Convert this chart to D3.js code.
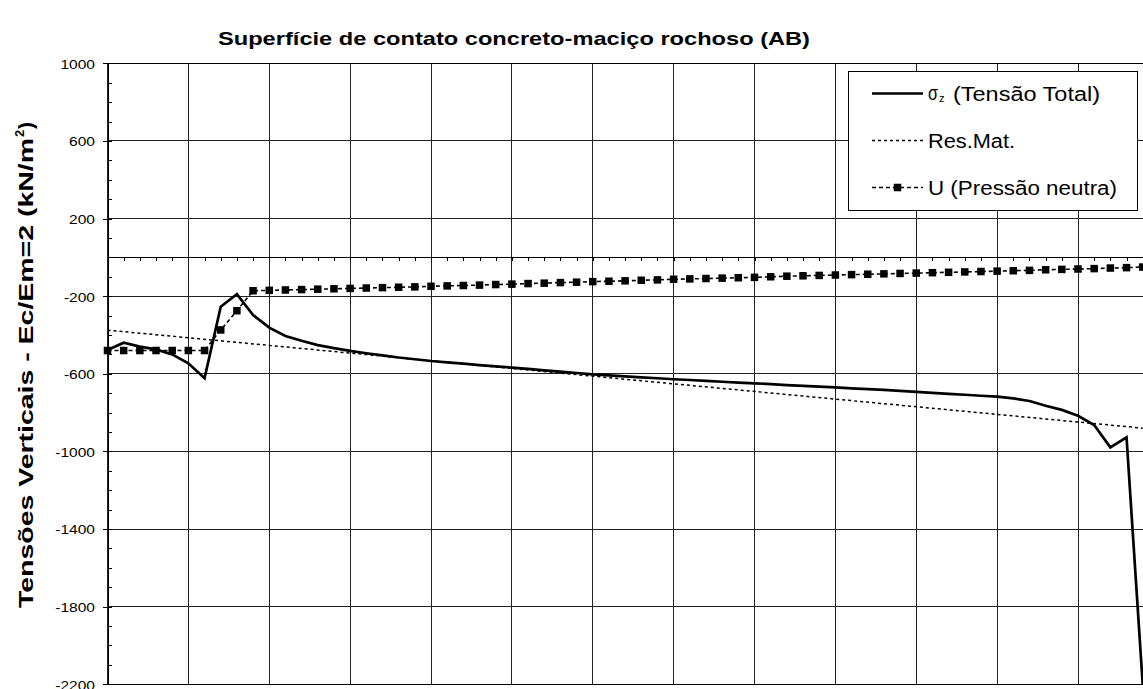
<!DOCTYPE html>
<html>
<head>
<meta charset="utf-8">
<script src="https://cdn.jsdelivr.net/npm/d3@7"></script>
<style>
  html, body { margin: 0; padding: 0; background: #fff; }
  svg { display: block; font-family: "Liberation Sans", Arial, sans-serif; }
</style>
</head>
<body>
<svg id="chart" width="1143" height="689"></svg>
<script>
// ---- data ----
const titleText = "Superfície de contato concreto-maciço rochoso (AB)";
const yTitleMain = "Tensões Verticais - Ec/Em=2  (kN/m";
const yTitleSup = "2";
const yTitleEnd = ")";
const yTickValues = [1000, 600, 200, -200, -600, -1000, -1400, -1800, -2200];
const yTickLabels = ["1000", "600", "200", "-200", "-600", "-1000", "-1400", "-1800", "-2200"];
const xGridValues = [0, 5, 10, 15, 20, 25, 30, 35, 40, 45, 50, 55, 60];

// sigma_z (Tensão Total), one value per node 0..64
const sigmaX = [0,1,2,3,4,5,6,7,8,9,10,11,12,13,14,15,16,17,18,19,20,21,22,23,24,25,26,27,28,29,30,31,32,33,34,35,36,37,38,39,40,41,42,43,44,45,46,47,48,49,50,51,52,53,54,55,56,57,58,59,60,61,62,63,64];
const sigmaZ = [-477,-440,-460,-474,-500,-546,-623,-254,-190,-297,-362,-405,-430,-452,-468,-482,-494,-505,-516,-525,-534,-541,-548,-555,-562,-568,-575,-582,-589,-596,-603,-608,-613,-618,-623,-628,-632,-636,-641,-645,-649,-653,-658,-662,-666,-670,-675,-679,-683,-688,-693,-698,-703,-708,-713,-718,-727,-740,-765,-786,-816,-864,-979,-927,-2200];

// Res.Mat.
const resMatX = [0, 16, 32, 48, 64];
const resMat = [-375, -501, -628, -754, -880];

// U (Pressão neutra)
const uX = sigmaX;
const uVals = [-480,-480,-480,-480,-480,-480,-480,-374,-275,-172,-170,-168,-166,-164,-162,-160,-158,-156,-154,-152,-149,-147,-145,-143,-140,-138,-135,-133,-130,-128,-125,-123,-121,-118,-116,-113,-111,-109,-107,-105,-103,-100,-97,-95,-93,-91,-89,-87,-85,-83,-81,-79,-77,-75,-73,-71,-69,-67,-64,-62,-60,-58,-55,-53,-50];

const legendLabels = ["σ", "z", "(Tensão Total)", "Res.Mat.", "U (Pressão neutra)"];

// ---- chart ----
const svg = d3.select("#chart");
const x = d3.scaleLinear().domain([0, 64]).range([107.5, 1142.7]);
const y = d3.scaleLinear().domain([-2200, 1000]).range([684.3, 63.3]);

svg.append("rect").attr("width", 1143).attr("height", 689).attr("fill", "#fff");

// gridlines
const grid = svg.append("g").attr("stroke", "#222").attr("stroke-width", 1).attr("shape-rendering", "crispEdges");
grid.selectAll("line.h").data(yTickValues).join("line")
  .attr("x1", x(0)).attr("x2", 1143).attr("y1", d => y(d)).attr("y2", d => y(d));
grid.selectAll("line.v").data(xGridValues).join("line")
  .attr("x1", d => x(d)).attr("x2", d => x(d)).attr("y1", y(1000)).attr("y2", y(-2200));

// y axis (major outside with labels)
const yAxis = svg.append("g").attr("transform", `translate(${x(0)},0)`)
  .call(d3.axisLeft(y).tickValues(yTickValues).tickFormat((d, i) => yTickLabels[i]).tickSize(5).tickSizeOuter(0));
yAxis.select(".domain").attr("stroke", "#000").attr("shape-rendering", "crispEdges");
yAxis.selectAll(".tick line").attr("stroke", "#000").attr("shape-rendering", "crispEdges");
yAxis.selectAll(".tick text")
  .attr("font-family", "'Liberation Sans', Arial, sans-serif")
  .attr("font-size", 13.5).attr("fill", "#000")
  .attr("x", -10.9).attr("dy", "0.36em")
  .attr("transform", "scale(1.15,1)");

// minor ticks y (inside)
const yMinor = svg.append("g").attr("transform", `translate(${x(0)},0)`)
  .call(d3.axisRight(y).tickValues(d3.range(-2200, 1001, 100)).tickSize(4).tickFormat("").tickSizeOuter(0));
yMinor.select(".domain").remove();
yMinor.selectAll(".tick line").attr("stroke", "#000").attr("shape-rendering", "crispEdges");

// x axis at y=0 with minor ticks
const xAxis = svg.append("g").attr("transform", `translate(0,${y(0)})`)
  .call(d3.axisBottom(x).tickValues(d3.range(0, 65, 1)).tickSize(4).tickFormat("").tickSizeOuter(0));
xAxis.select(".domain").attr("stroke", "#000").attr("shape-rendering", "crispEdges");
xAxis.selectAll(".tick line").attr("stroke", "#000").attr("shape-rendering", "crispEdges");

// border top/bottom
svg.append("line").attr("x1", x(0)).attr("x2", 1143).attr("y1", y(1000)).attr("y2", y(1000)).attr("stroke", "#000").attr("shape-rendering", "crispEdges");
svg.append("line").attr("x1", x(0)).attr("x2", 1143).attr("y1", y(-2200)).attr("y2", y(-2200)).attr("stroke", "#000").attr("stroke-width", 1.5).attr("shape-rendering", "crispEdges");

const line = d3.line().x(d => x(d[0])).y(d => y(d[1]));

// Res.Mat.
svg.append("path").datum(resMatX.map((d, i) => [d, resMat[i]]))
  .attr("d", line).attr("fill", "none").attr("stroke", "#000").attr("stroke-width", 1.5)
  .attr("stroke-dasharray", "3,3");

// U series
svg.append("path").datum(uX.map((d, i) => [d, uVals[i]]))
  .attr("d", line).attr("fill", "none").attr("stroke", "#000").attr("stroke-width", 1.6)
  .attr("stroke-dasharray", "4,3");
svg.append("g").selectAll("rect").data(uX.map((d, i) => [d, uVals[i]])).join("rect")
  .attr("x", d => x(d[0]) - 3.75).attr("y", d => y(d[1]) - 3.75)
  .attr("width", 7.5).attr("height", 7.5).attr("fill", "#000");

// sigma_z
svg.append("path").datum(sigmaX.map((d, i) => [d, sigmaZ[i]]))
  .attr("d", line).attr("fill", "none").attr("stroke", "#000").attr("stroke-width", 2.7)
  .attr("stroke-linejoin", "miter");

// title
svg.append("text").attr("x", 218).attr("y", 45)
  .attr("font-size", 19).attr("font-weight", "bold").attr("fill", "#000")
  .attr("textLength", 592).attr("lengthAdjust", "spacingAndGlyphs")
  .text(titleText);

// y title (rotated, reading bottom to top)
const ytg = svg.append("g").attr("transform", "translate(33,608) rotate(-90)")
  .attr("font-weight", "bold").attr("fill", "#000");
ytg.append("text").attr("x", 0).attr("y", 0).attr("font-size", 21)
  .attr("textLength", 470).attr("lengthAdjust", "spacingAndGlyphs").text(yTitleMain);
ytg.append("text").attr("x", 471).attr("y", -9).attr("font-size", 13).text(yTitleSup);
ytg.append("text").attr("x", 479).attr("y", 0).attr("font-size", 21).text(yTitleEnd);

// legend
const lg = svg.append("g");
lg.append("rect").attr("x", 848.5).attr("y", 71.5).attr("width", 289).attr("height", 139)
  .attr("fill", "#fff").attr("stroke", "#000").attr("stroke-width", 1).attr("shape-rendering", "crispEdges");
const rows = [93.5, 140.5, 187.5];
lg.append("line").attr("x1", 872).attr("x2", 923).attr("y1", rows[0]).attr("y2", rows[0])
  .attr("stroke", "#000").attr("stroke-width", 2.7);
lg.append("line").attr("x1", 872).attr("x2", 923).attr("y1", rows[1]).attr("y2", rows[1])
  .attr("stroke", "#000").attr("stroke-width", 1.5).attr("stroke-dasharray", "3,3");
lg.append("line").attr("x1", 872).attr("x2", 923).attr("y1", rows[2]).attr("y2", rows[2])
  .attr("stroke", "#000").attr("stroke-width", 1.6).attr("stroke-dasharray", "4,3");
lg.append("rect").attr("x", 897.5 - 3.75).attr("y", rows[2] - 3.75).attr("width", 7.5).attr("height", 7.5).attr("fill", "#000");

const tAttr = s => s.attr("fill", "#000").attr("font-size", 20).attr("lengthAdjust", "spacingAndGlyphs");
lg.append("text").attr("x", 928).attr("y", rows[0] + 6).call(tAttr).attr("textLength", 10).text(legendLabels[0]);
lg.append("text").attr("x", 939).attr("y", rows[0] + 8).attr("fill", "#000").attr("font-size", 11).text(legendLabels[1]);
lg.append("text").attr("x", 953).attr("y", rows[0] + 7).call(tAttr).attr("textLength", 147).text(legendLabels[2]);
lg.append("text").attr("x", 928).attr("y", rows[1] + 7).call(tAttr).attr("textLength", 87).text(legendLabels[3]);
lg.append("text").attr("x", 928).attr("y", rows[2] + 7).call(tAttr).attr("textLength", 189).text(legendLabels[4]);
</script>
</body>
</html>
